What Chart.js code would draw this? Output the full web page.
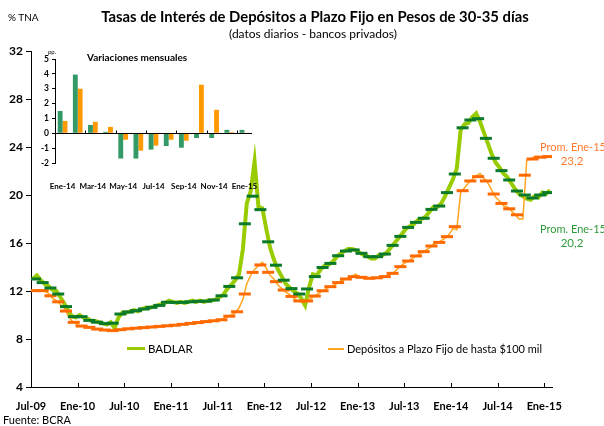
<!DOCTYPE html>
<html>
<head>
<meta charset="utf-8">
<script src="https://cdn.jsdelivr.net/npm/chart.js@4.4.1/dist/chart.umd.min.js"></script>
<style>
  body { margin: 0; background: #fff; font-family: Lato, sans-serif; }
  #wrap { position: relative; width: 604px; height: 426px; overflow: hidden; }
  canvas { position: absolute; }
  .t { position: absolute; white-space: nowrap; color: #000; line-height: 1; }
</style>
</head>
<body>
<div id="wrap">
  <canvas id="main" width="604" height="426" style="left:0;top:0"></canvas>
  <canvas id="inset" width="270" height="150" style="left:0;top:40px"></canvas>

  <div class="t" style="left:8px;top:12px;font-size:10px">% TNA</div>
  <div class="t" style="left:0;width:630px;text-align:center;top:9px;font-size:14.8px;font-weight:bold">Tasas de Interés de Depósitos a Plazo Fijo en Pesos de 30-35 días</div>
  <div class="t" style="left:0;width:626px;text-align:center;top:28px;font-size:12px">(datos diarios - bancos privados)</div>

  <div class="t" style="left:87px;top:52px;font-size:10px;font-weight:bold">Variaciones mensuales</div>
  <div class="t" style="left:48px;top:49px;font-size:6px">pp.</div>

  <div style="position:absolute;left:127px;top:347px;width:18px;height:3px;background:#99cc00"></div>
  <div class="t" style="left:148px;top:343px;font-size:11.5px">BADLAR</div>
  <div style="position:absolute;left:328px;top:348px;width:16px;height:2px;background:#ffa51f"></div>
  <div class="t" style="left:347px;top:343px;font-size:11px">Depósitos a Plazo Fijo de hasta $100 mil</div>

  <div class="t" style="left:540px;top:141px;font-size:11px;color:#ff7a2e">Prom. Ene-15</div>
  <div class="t" style="left:540px;width:64px;text-align:center;top:155px;font-size:11.5px;color:#ff7a2e">23,2</div>
  <div class="t" style="left:540px;top:223px;font-size:11px;color:#2e9a3a">Prom. Ene-15</div>
  <div class="t" style="left:540px;width:64px;text-align:center;top:237px;font-size:11.5px;color:#2e9a3a">20,2</div>

  <div class="t" style="left:3px;top:414px;font-size:11px">Fuente: BCRA</div>
</div>

<script>
// eje principal: meses desde Jul-09
var xTickLabels = ['Jul-09', 'Ene-10', 'Jul-10', 'Ene-11', 'Jul-11', 'Ene-12', 'Jul-12', 'Ene-13', 'Jul-13', 'Ene-14', 'Jul-14', 'Ene-15'];

// promedios mensuales Jul-09 .. Ene-15
var badlarProm = [13.0, 12.7, 12.25, 11.75, 10.7, 9.86, 9.86, 9.55, 9.4, 9.28, 9.32, 10.08,
    10.25, 10.36, 10.5, 10.64, 10.8, 11.06, 11.05, 11.05, 11.1, 11.14, 11.15, 11.25,
    11.6, 12.38, 13.1, 17.6, 19.9, 18.78, 16.1, 14.15, 12.9, 12.2, 11.75, 12.17,
    13.2, 13.96, 14.3, 14.94, 15.33, 15.42, 15.14, 14.86, 14.86, 15.08, 15.8, 16.55,
    17.3, 17.72, 18.06, 18.8, 19.08, 20.2, 21.75, 25.6, 26.25, 26.36, 24.72, 23.06,
    22.03, 21.25, 20.33, 20.0, 19.75, 20.0, 20.2];
var plazoProm = [12.03, 12.03, 11.6, 11.1, 10.33, 9.39, 9.08, 8.97, 8.83, 8.75, 8.7, 8.78,
    8.85, 8.9, 8.95, 9.0, 9.05, 9.1, 9.15, 9.22, 9.3, 9.37, 9.45, 9.52,
    9.6, 9.9, 10.27, 11.75, 13.55, 14.17, 13.56, 12.78, 12.08, 11.55, 11.17, 11.17,
    11.58, 12.02, 12.36, 12.7, 13.0, 13.2, 13.14, 13.06, 13.1, 13.2, 13.47, 14.03,
    14.5, 14.92, 15.28, 15.75, 16.05, 16.53, 17.36, 20.36, 21.17, 21.53, 21.17, 20.08,
    19.3, 18.85, 18.35, 21.65, 23.0, 23.15, 23.2];

// valores diarios (dos lecturas por mes)
var badlarDiario = [13.0, 13.3, 12.9, 12.6, 12.4, 12.1, 12.0, 11.5, 11.0, 10.4, 9.9, 9.8,
    10.0, 9.8, 9.7, 9.5, 9.5, 9.4, 9.3, 9.2, 9.4, 8.9, 9.8, 10.2,
    10.2, 10.3, 10.4, 10.3, 10.5, 10.6, 10.6, 10.7, 10.8, 10.9, 11.0, 11.2,
    11.1, 11.0, 11.1, 11.0, 11.1, 11.2, 11.1, 11.2, 11.1, 11.2, 11.2, 11.3,
    11.5, 11.7, 12.2, 12.5, 12.9, 13.4, 15.5, 19.3, 20.3, 22.8, 19.0, 18.9,
    17.2, 15.6, 14.6, 13.8, 13.2, 12.6, 12.3, 12.0, 11.8, 11.4, 10.8, 12.3,
    13.4, 13.3, 13.8, 14.1, 14.2, 14.4, 14.8, 15.1, 15.3, 15.5, 15.5, 15.4,
    15.2, 15.0, 14.9, 14.7, 14.7, 15.0, 15.0, 15.2, 15.6, 16.0, 16.4, 16.8,
    17.2, 17.4, 17.6, 17.9, 18.0, 18.2, 18.6, 19.0, 19.0, 19.3, 19.9, 20.6,
    21.3, 22.2, 25.4, 25.9, 26.0, 26.5, 26.8, 26.1, 25.2, 24.3, 23.4, 22.7,
    22.3, 21.8, 21.5, 21.0, 20.5, 20.1, 19.9, 19.7, 19.6, 19.9, 19.8, 20.2,
    20.1, 20.4];
var plazoDiario = [12.0, 12.05, 12.05, 12.0, 11.8, 11.4, 11.2, 10.9, 10.6, 10.0, 9.5, 9.3,
    9.1, 9.05, 9.0, 8.95, 8.85, 8.8, 8.75, 8.72, 8.7, 8.68, 8.75, 8.8,
    8.83, 8.87, 8.88, 8.92, 8.93, 8.97, 8.98, 9.02, 9.03, 9.07, 9.08, 9.12,
    9.13, 9.18, 9.2, 9.25, 9.28, 9.33, 9.35, 9.4, 9.43, 9.48, 9.5, 9.55,
    9.58, 9.7, 9.85, 10.0, 10.15, 10.6, 11.3, 12.6, 13.3, 13.8, 14.1, 14.4,
    13.9, 13.3, 13.0, 12.5, 12.2, 11.9, 11.7, 11.4, 11.2, 11.1, 11.1, 11.3,
    11.5, 11.7, 11.9, 12.1, 12.3, 12.4, 12.6, 12.8, 12.95, 13.05, 13.2, 13.4,
    13.15, 13.1, 13.05, 13.05, 13.1, 13.15, 13.15, 13.3, 13.4, 13.6, 13.9, 14.2,
    14.4, 14.6, 14.8, 15.0, 15.2, 15.4, 15.6, 15.9, 16.0, 16.2, 16.4, 16.7,
    17.2, 17.1, 20.2, 20.6, 21.0, 21.3, 21.6, 21.8, 21.4, 21.0, 20.4, 19.8,
    19.5, 19.1, 19.0, 18.7, 18.4, 18.0, 18.0, 22.9, 23.0, 23.2, 23.2, 23.15,
    23.2, 23.25];

// recuadro: variaciones mensuales (pp.)
var insetMeses = ['Ene-14', 'Feb-14', 'Mar-14', 'Abr-14', 'May-14', 'Jun-14', 'Jul-14', 'Ago-14', 'Sep-14', 'Oct-14', 'Nov-14', 'Dic-14', 'Ene-15'];
var varBadlar = [1.5, 3.95, 0.56, 0.1, -1.7, -1.7, -1.1, -0.86, -0.97, -0.32, -0.32, 0.23, 0.23];
var varPlazo = [0.83, 3.0, 0.77, 0.43, -0.43, -1.17, -0.83, -0.43, -0.5, 3.27, 1.58, 0.08, 0.02];

var fontFam = 'Lato, sans-serif';

// ticks del eje x hacia arriba
var upTicks = {
    id: 'upTicks',
    afterDraw: function (chart) {
        var xs = chart.scales.x, ctx = chart.ctx, b = chart.chartArea.bottom;
        ctx.save();
        ctx.strokeStyle = '#000';
        ctx.lineWidth = 1;
        xs.ticks.forEach(function (t) {
            if (t.value === 0) return;
            var px = Math.round(xs.getPixelForValue(t.value)) + 0.5;
            ctx.beginPath();
            ctx.moveTo(px, b);
            ctx.lineTo(px, b - 4);
            ctx.stroke();
        });
        ctx.restore();
    }
};

new Chart(document.getElementById('main'), {
    type: 'line',
    data: {
        datasets: [
            {
                label: 'BADLAR prom',
                data: badlarProm.map(function (v, m) { return {x: m + 0.5, y: v}; }),
                showLine: false,
                pointStyle: 'line',
                pointRadius: 6,
                pointBorderWidth: 3,
                pointBorderColor: '#0b7a2a',
                borderColor: '#0b7a2a',
                order: 0
            },
            {
                label: 'Plazo Fijo prom',
                data: plazoProm.map(function (v, m) { return {x: m + 0.5, y: v}; }),
                showLine: false,
                pointStyle: 'line',
                pointRadius: 6,
                pointBorderWidth: 3,
                pointBorderColor: '#ff6a00',
                borderColor: '#ff6a00',
                order: 1
            },
            {
                label: 'Depósitos a Plazo Fijo de hasta $100 mil',
                data: plazoDiario.map(function (v, i) { return {x: i / 2 + 0.25, y: v}; }),
                borderColor: '#ffa51f',
                borderWidth: 1.5,
                pointRadius: 0,
                tension: 0,
                order: 2
            },
            {
                label: 'BADLAR',
                data: badlarDiario.map(function (v, i) { return {x: i / 2 + 0.25, y: v}; }),
                borderColor: '#99cc00',
                borderWidth: 4,
                pointRadius: 0,
                tension: 0,
                order: 3
            }
        ]
    },
    options: {
        responsive: false,
        animation: false,
        layout: {padding: {left: 0, top: 51, right: 52, bottom: 0}},
        plugins: {legend: {display: false}, tooltip: {enabled: false}},
        scales: {
            x: {
                type: 'linear',
                min: 0,
                max: 67,
                afterFit: function (s) { s.height = 39; },
                afterBuildTicks: function (s) {
                    s.ticks = xTickLabels.map(function (l, i) { return {value: i * 6}; });
                },
                ticks: {
                    callback: function (v) { return xTickLabels[v / 6]; },
                    autoSkip: false,
                    maxRotation: 0,
                    padding: 13,
                    color: '#000',
                    font: {family: fontFam, size: 11, weight: 'bold'}
                },
                grid: {drawOnChartArea: false, drawTicks: false},
                border: {color: '#000', width: 1}
            },
            y: {
                min: 4,
                max: 32,
                afterFit: function (s) { s.width = 31; },
                ticks: {
                    stepSize: 4,
                    padding: 3,
                    color: '#000',
                    font: {family: fontFam, size: 12, weight: 'bold'}
                },
                grid: {drawOnChartArea: false, tickLength: 5, color: '#000'},
                border: {color: '#000', width: 1}
            }
        }
    },
    plugins: [upTicks]
});

// linea de cero del recuadro
var zeroLine = {
    id: 'zeroLine',
    afterDatasetsDraw: function (chart) {
        var xs = chart.scales.x, ys = chart.scales.y, ctx = chart.ctx, a = chart.chartArea;
        var y0 = Math.round(ys.getPixelForValue(0)) + 0.5;
        ctx.save();
        ctx.strokeStyle = '#000';
        ctx.lineWidth = 1;
        ctx.beginPath();
        ctx.moveTo(a.left, y0);
        ctx.lineTo(a.right, y0);
        for (var i = 2; i < insetMeses.length; i += 2) {
            var px = Math.round((xs.getPixelForValue(i - 1) + xs.getPixelForValue(i)) / 2) + 0.5;
            ctx.moveTo(px, y0);
            ctx.lineTo(px, y0 - 3);
        }
        ctx.stroke();
        ctx.restore();
    }
};

new Chart(document.getElementById('inset'), {
    type: 'bar',
    data: {
        labels: insetMeses,
        datasets: [
            {label: 'BADLAR', data: varBadlar, backgroundColor: '#339966'},
            {label: 'Plazo Fijo', data: varPlazo, backgroundColor: '#ff9900'}
        ]
    },
    options: {
        responsive: false,
        animation: false,
        barPercentage: 1,
        categoryPercentage: 0.64,
        layout: {padding: {left: 0, top: 19, right: 18, bottom: 0}},
        plugins: {legend: {display: false}, tooltip: {enabled: false}},
        scales: {
            x: {
                afterFit: function (s) { s.height = 27; },
                ticks: {
                    callback: function (v, i) { return i % 2 === 0 ? insetMeses[i] : ''; },
                    autoSkip: false,
                    maxRotation: 0,
                    padding: 11,
                    color: '#000',
                    font: {family: fontFam, size: 8, weight: 'bold'}
                },
                grid: {display: false},
                border: {display: false}
            },
            y: {
                min: -2,
                max: 5,
                afterFit: function (s) { s.width = 55; },
                ticks: {
                    stepSize: 1,
                    padding: 3,
                    color: '#000',
                    font: {family: fontFam, size: 8.5, weight: 'bold'}
                },
                grid: {drawOnChartArea: false, tickLength: 3, color: '#000'},
                border: {color: '#000', width: 1}
            }
        }
    },
    plugins: [zeroLine]
});
</script>
</body>
</html>
